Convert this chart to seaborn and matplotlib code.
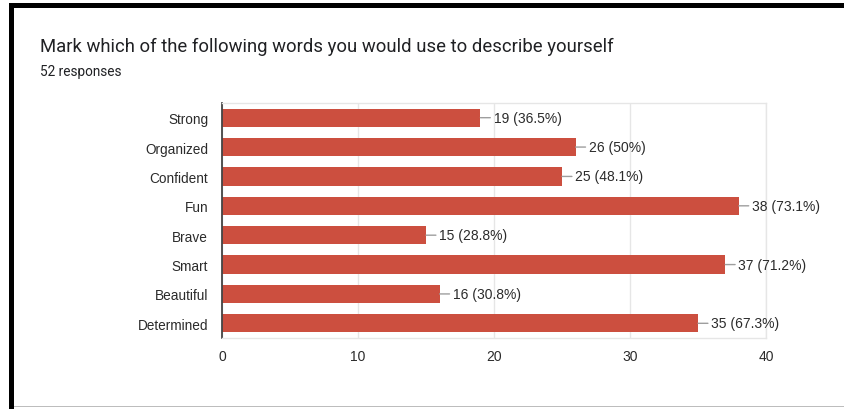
import matplotlib
matplotlib.use("Agg")
import matplotlib.pyplot as plt
from matplotlib.patches import Rectangle
import seaborn as sns

words = ["Strong", "Organized", "Confident", "Fun", "Brave", "Smart", "Beautiful", "Determined"]
counts = [19, 26, 25, 38, 15, 37, 16, 35]
percents = ["36.5%", "50%", "48.1%", "73.1%", "28.8%", "71.2%", "30.8%", "67.3%"]
x_ticks = [0, 10, 20, 30, 40]
title = "Mark which of the following words you would use to describe yourself"
subtitle = "52 responses"

sns.set_theme(style="white")
plt.rcParams["font.family"] = ["Liberation Sans", "DejaVu Sans"]

W, H = 844, 410
fig = plt.figure(figsize=(W / 100, H / 100), dpi=100)
fig.patch.set_facecolor("white")

# card frame: heavy dark top and left edges, faint bottom rule
fig.patches.append(Rectangle((9 / W, 1 - 9 / H), 1 - 9 / W, 5 / H, transform=fig.transFigure,
                             facecolor="black", edgecolor="none"))
fig.patches.append(Rectangle((9 / W, 0), 5 / W, 1 - 4 / H, transform=fig.transFigure,
                             facecolor="black", edgecolor="none"))
fig.patches.append(Rectangle((14 / W, 2 / H), 1 - 14 / W, 1.5 / H, transform=fig.transFigure,
                             facecolor="#bdbdbd", edgecolor="none"))

fig.text(40 / W, 1 - 47 / H, title, fontsize=13.3, color="#202124",
         family=["Roboto", "DejaVu Sans"], va="center", ha="left")
fig.text(40 / W, 1 - 72 / H, subtitle, fontsize=9.8, color="#202124",
         family=["Roboto", "DejaVu Sans"], va="center", ha="left")

left, right, top, bottom = 222, 766, 104, 339
ax = fig.add_axes([left / W, 1 - bottom / H, (right - left) / W, (bottom - top) / H])

bar_color = "#cc4f3f"
sns.barplot(x=counts, y=words, orient="h", color=bar_color, saturation=1,
            width=0.62, ax=ax, edgecolor="none")

ax.set_xlim(0, 40)
ax.set_xticks(x_ticks)
ax.set_xticklabels([str(t) for t in x_ticks])
ax.set_xlabel("")
ax.set_ylabel("")
ax.grid(axis="x", color="#e6e6e6", linewidth=1)
ax.set_axisbelow(True)
ax.tick_params(axis="both", length=0, labelsize=10, colors="#2b2b2b")
ax.tick_params(axis="x", pad=8)
ax.tick_params(axis="y", pad=10, labelsize=9.8)
for side in ("top", "right", "bottom"):
    ax.spines[side].set_color("#e6e6e6")
    ax.spines[side].set_linewidth(1)
ax.spines["left"].set_color("#444444")
ax.spines["left"].set_linewidth(1.3)

for i, (c, p) in enumerate(zip(counts, percents)):
    ax.annotate(f"{c} ({p})", xy=(c, i), xytext=(9.5, 0), textcoords="offset points",
                ha="left", va="center", fontsize=10, color="#2b2b2b",
                arrowprops=dict(arrowstyle="-", color="#9e9e9e", lw=1,
                                shrinkA=0, shrinkB=0))

fig.savefig("out.png", dpi=100)
